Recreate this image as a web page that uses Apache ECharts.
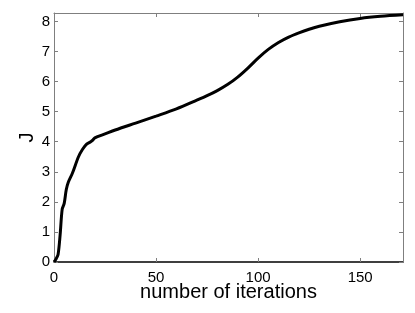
<!DOCTYPE html>
<html><head><meta charset="utf-8">
<script src="https://cdn.jsdelivr.net/npm/echarts@6/dist/echarts.min.js"></script>
<style>html,body{margin:0;padding:0;background:#fff}#c{width:415px;height:313px}</style>
</head><body><div id="c"></div>
<script>
var iterations = [0, 1, 2, 3, 4, 5, 6, 7, 9, 12, 14, 16, 18, 19, 20, 25, 30, 40, 50, 60, 70, 75, 80, 85, 90, 95, 100, 105, 110, 115, 120, 125, 130, 140, 150, 160, 171];
var J = [0.0, 0.1, 0.25, 0.9, 1.75, 1.95, 2.4, 2.65, 2.95, 3.5, 3.75, 3.92, 4.0, 4.05, 4.13, 4.26, 4.39, 4.62, 4.85, 5.09, 5.38, 5.53, 5.7, 5.9, 6.15, 6.45, 6.78, 7.07, 7.3, 7.48, 7.62, 7.74, 7.84, 7.99, 8.1, 8.17, 8.22];
var xTicks = [0, 50, 100, 150];
var yTicks = [0, 1, 2, 3, 4, 5, 6, 7, 8];
var xMax = 171, yMax = 8.28;

var font = 'Liberation Sans, Arial, sans-serif';
var gray = '#7f7f7f';
function xfmt(v){ return xTicks.indexOf(v) >= 0 ? String(v) : ''; }
function yfmt(v){ return yTicks.indexOf(v) >= 0 ? String(v) : ''; }
var chart = echarts.init(document.getElementById('c'), null, {renderer:'canvas'});
var tickIn = {show:true, inside:true, length:4, lineStyle:{color:gray, width:1}};
chart.setOption({
  animation:false,
  grid:{left:54, right:12, top:13, bottom:51, containLabel:false},
  xAxis:[{
    type:'value', min:0, max:xMax, interval:50, position:'bottom',
    name:'number of iterations', nameLocation:'middle', nameGap:20, nameMoveOverlap:false,
    nameTextStyle:{fontFamily:font, fontSize:20, color:'#000'},
    axisLine:{show:true, onZero:false, lineStyle:{color:'#000', width:1.5}},
    axisTick:tickIn,
    axisLabel:{fontFamily:font, fontSize:15, color:'#000', margin:8, formatter:xfmt},
    splitLine:{show:false}
  },{
    type:'value', min:0, max:xMax, interval:50, position:'top',
    axisLine:{show:true, onZero:false, lineStyle:{color:gray, width:1}},
    axisTick:tickIn, axisLabel:{show:false}, splitLine:{show:false}
  }],
  yAxis:[{
    type:'value', min:0, max:yMax, interval:1, position:'left',
    name:'J', nameLocation:'middle', nameGap:17, nameRotate:90, nameMoveOverlap:false,
    nameTextStyle:{fontFamily:font, fontSize:20, color:'#000'},
    axisLine:{show:true, onZero:false, lineStyle:{color:gray, width:1}},
    axisTick:tickIn,
    axisLabel:{fontFamily:font, fontSize:15, color:'#000', margin:4, formatter:yfmt},
    splitLine:{show:false}
  },{
    type:'value', min:0, max:yMax, interval:1, position:'right',
    axisLine:{show:true, onZero:false, lineStyle:{color:gray, width:1}},
    axisTick:tickIn, axisLabel:{show:false}, splitLine:{show:false}
  }],
  series:[{
    type:'line', xAxisIndex:0, yAxisIndex:0,
    data: iterations.map(function(x,i){return [x, J[i]];}),
    showSymbol:false, smooth:0.3,
    lineStyle:{color:'#000', width:3}
  }]
});
</script></body></html>
